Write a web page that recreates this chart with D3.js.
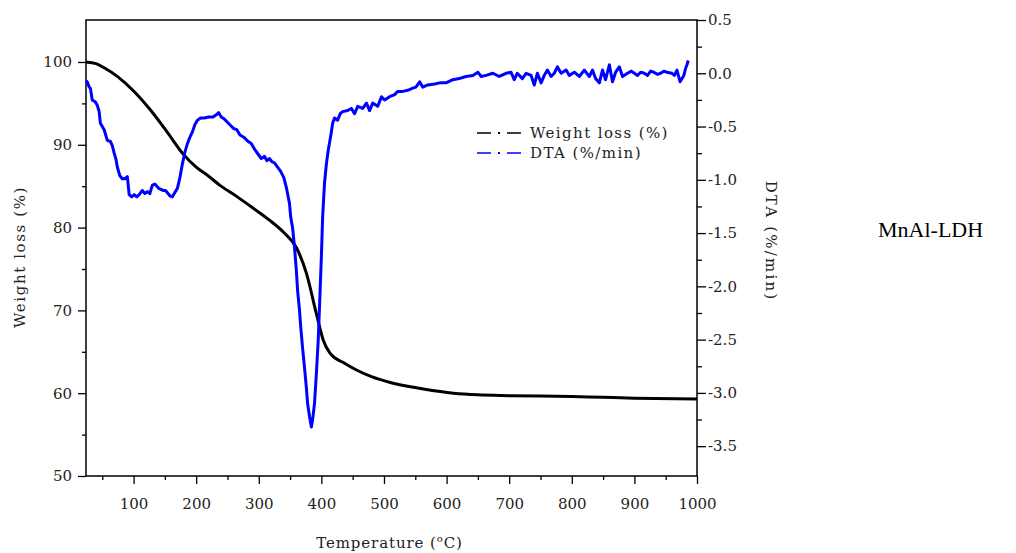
<!DOCTYPE html>
<html>
<head>
<meta charset="utf-8">
<script src="https://cdn.jsdelivr.net/npm/d3@7"></script>
<style>
  body { margin: 0; background: #fff; }
  svg text { font-family: "DejaVu Serif", serif; fill: #222; }
</style>
</head>
<body>
<svg id="chart" width="1016" height="553"></svg>
<script>
// temperature (°C) / weight loss (%)
const tgTemp = [24, 40, 53, 75, 100, 127, 154, 179, 200, 220, 238, 264, 290, 317, 340, 360, 376, 392, 403, 414, 435, 456, 480, 510, 540, 563, 611, 650, 700, 800, 850, 900, 1000];
const tgWeight = [100, 99.8, 99.3, 98.2, 96.5, 94.2, 91.5, 88.9, 87.3, 86.2, 85.1, 83.8, 82.4, 80.9, 79.4, 77.6, 74.5, 69.6, 66.4, 64.8, 63.7, 62.8, 62.0, 61.3, 60.8, 60.5, 60.0, 59.8, 59.7, 59.6, 59.5, 59.4, 59.3];

// temperature (°C) / DTA (%/min)
const dtaTemp = [24, 26, 29, 31, 34, 39, 42, 45, 47, 53, 58, 63, 66, 69, 72, 74, 78, 82, 86, 90, 93, 97, 101, 105, 109, 114, 118, 122, 126, 130, 134, 140, 147, 151, 158, 162, 166, 170, 174, 178, 182, 186, 190, 194, 198, 202, 207, 213, 220, 227, 232, 236, 240, 245, 250, 255, 260, 265, 270, 276, 283, 288, 294, 299, 304, 309, 313, 317, 321, 325, 330, 335, 340, 344, 346, 349, 351, 354, 357, 360, 362, 365, 367, 370, 373, 376, 378, 381, 384, 386, 389, 392, 395, 397, 400, 402, 405, 408, 411, 414, 416, 418, 421, 426, 430, 434, 442, 448, 453, 458, 466, 472, 477, 482, 490, 496, 501, 509, 517, 522, 530, 538, 546, 551, 557, 562, 570, 581, 589, 599, 610, 620, 631, 642, 650, 655, 663, 674, 684, 695, 703, 708, 713, 721, 727, 735, 740, 745, 751, 756, 761, 767, 772, 777, 783, 791, 796, 804, 812, 820, 828, 833, 838, 844, 849, 854, 860, 865, 870, 876, 881, 889, 895, 900, 905, 910, 916, 921, 926, 931, 937, 942, 947, 952, 960, 964, 968, 973, 979, 982, 984, 986];
const dtaRate = [-0.07, -0.08, -0.13, -0.14, -0.25, -0.27, -0.30, -0.36, -0.47, -0.53, -0.63, -0.64, -0.68, -0.75, -0.81, -0.88, -0.96, -0.99, -0.99, -0.97, -1.14, -1.16, -1.14, -1.16, -1.14, -1.10, -1.13, -1.11, -1.13, -1.05, -1.04, -1.08, -1.10, -1.10, -1.15, -1.16, -1.12, -1.08, -0.98, -0.85, -0.74, -0.66, -0.60, -0.55, -0.48, -0.44, -0.42, -0.42, -0.41, -0.41, -0.39, -0.37, -0.41, -0.43, -0.46, -0.49, -0.52, -0.53, -0.58, -0.60, -0.64, -0.66, -0.72, -0.76, -0.80, -0.78, -0.82, -0.80, -0.83, -0.84, -0.88, -0.92, -0.98, -1.07, -1.13, -1.22, -1.35, -1.45, -1.63, -1.85, -2.04, -2.22, -2.38, -2.58, -2.76, -2.95, -3.10, -3.22, -3.32, -3.25, -3.10, -2.82, -2.50, -2.19, -1.72, -1.35, -1.03, -0.85, -0.72, -0.62, -0.55, -0.47, -0.42, -0.44, -0.38, -0.36, -0.35, -0.33, -0.38, -0.31, -0.33, -0.28, -0.35, -0.28, -0.31, -0.22, -0.25, -0.22, -0.20, -0.17, -0.17, -0.16, -0.14, -0.13, -0.08, -0.13, -0.11, -0.10, -0.09, -0.09, -0.06, -0.05, -0.03, -0.02, 0.01, -0.03, -0.02, 0.0, -0.03, 0.0, 0.01, -0.06, 0.0, -0.05, 0.0, -0.02, -0.11, 0.0, -0.09, -0.02, 0.03, -0.03, 0.0, 0.06, 0.0, 0.03, -0.02, 0.01, -0.03, 0.03, -0.03, 0.03, -0.05, -0.09, 0.03, -0.06, 0.08, -0.08, 0.01, 0.06, -0.03, 0.0, 0.02, 0.0, -0.02, 0.01, 0.0, -0.02, 0.02, 0.01, -0.01, 0.0, 0.02, 0.01, 0.0, -0.02, 0.03, -0.08, -0.02, 0.05, 0.08, 0.12];

const xTicks = [100, 200, 300, 400, 500, 600, 700, 800, 900, 1000];
const xMinor = [50, 150, 250, 350, 450, 550, 650, 750, 850, 950];
const leftTicks = [50, 60, 70, 80, 90, 100];
const leftMinor = [55, 65, 75, 85, 95];
const rightTicks = [0.5, 0.0, -0.5, -1.0, -1.5, -2.0, -2.5, -3.0, -3.5];
const rightMinor = [0.25, -0.25, -0.75, -1.25, -1.75, -2.25, -2.75, -3.25];

const seriesNames = ["Weight loss (%)", "DTA (%/min)"];
const seriesColors = ["#000000", "#0000ff"];

const plotLeft = 86, plotRight = 697, plotTop = 20, plotBottom = 476;

const svg = d3.select("#chart");

let x = d3.scaleLinear().domain([24, 1000]).range([plotLeft, plotRight]);
let yL = d3.scaleLinear().domain([50, 105.07]).range([plotBottom, plotTop]);
let yR = d3.scaleLinear().domain([-3.78, 0.5]).range([plotBottom, plotTop]);

// frame
svg.append("rect")
    .attr("x", plotLeft).attr("y", plotTop)
    .attr("width", plotRight - plotLeft).attr("height", plotBottom - plotTop)
    .attr("fill", "none").attr("stroke", "#000").attr("stroke-width", 1.5);

function styleAxis(g) {
    g.select(".domain").remove();
    g.selectAll(".tick line").attr("stroke", "#000").attr("stroke-width", 1.3);
    g.selectAll("text").attr("font-size", 15).attr("fill", "#222");
}

// bottom axis
svg.append("g")
    .attr("transform", `translate(0,${plotBottom})`)
    .call(d3.axisBottom(x).tickValues(xTicks).tickSize(8).tickPadding(14).tickFormat(d3.format("d")))
    .call(styleAxis);
svg.append("g")
    .attr("transform", `translate(0,${plotBottom})`)
    .call(d3.axisBottom(x).tickValues(xMinor).tickSize(4).tickFormat(""))
    .call(styleAxis);

// left axis
svg.append("g")
    .attr("transform", `translate(${plotLeft},0)`)
    .call(d3.axisLeft(yL).tickValues(leftTicks).tickSize(8).tickPadding(6).tickFormat(d3.format("d")))
    .call(styleAxis);
svg.append("g")
    .attr("transform", `translate(${plotLeft},0)`)
    .call(d3.axisLeft(yL).tickValues(leftMinor).tickSize(4).tickFormat(""))
    .call(styleAxis);

// right axis
svg.append("g")
    .attr("transform", `translate(${plotRight},0)`)
    .call(d3.axisRight(yR).tickValues(rightTicks).tickSize(9).tickPadding(2).tickFormat(d => d.toFixed(1)))
    .call(styleAxis);
svg.append("g")
    .attr("transform", `translate(${plotRight},0)`)
    .call(d3.axisRight(yR).tickValues(rightMinor).tickSize(5).tickFormat(""))
    .call(styleAxis);

// curves
let tgData = tgTemp.map((t, i) => [t, tgWeight[i]]);
let dtaData = dtaTemp.map((t, i) => [t, dtaRate[i]]);

svg.append("path")
    .datum(tgData)
    .attr("fill", "none")
    .attr("stroke", seriesColors[0])
    .attr("stroke-width", 3)
    .attr("stroke-linejoin", "round")
    .attr("d", d3.line().x(d => x(d[0])).y(d => yL(d[1])).curve(d3.curveMonotoneX));

svg.append("path")
    .datum(dtaData)
    .attr("fill", "none")
    .attr("stroke", seriesColors[1])
    .attr("stroke-width", 3)
    .attr("stroke-linejoin", "round")
    .attr("d", d3.line().x(d => x(d[0])).y(d => yR(d[1])));

// legend
let legend = svg.append("g").attr("transform", "translate(477,133)");
seriesNames.forEach((name, i) => {
    let row = legend.append("g").attr("transform", `translate(0,${i * 20})`);
    row.append("line").attr("x1", 0).attr("x2", 14).attr("stroke", seriesColors[i]).attr("stroke-width", 1.5);
    row.append("rect").attr("x", 21).attr("y", -1).attr("width", 2).attr("height", 2).attr("fill", seriesColors[i]);
    row.append("line").attr("x1", 30).attr("x2", 44).attr("stroke", seriesColors[i]).attr("stroke-width", 1.5);
    row.append("text").attr("x", 53).attr("y", 5).attr("font-size", 15)
        .attr("letter-spacing", 1.4).text(name);
});

// axis titles
let xt = svg.append("text")
    .attr("x", (plotLeft + plotRight) / 2 - 2).attr("y", 548)
    .attr("text-anchor", "middle").attr("font-size", 15).attr("letter-spacing", 0.9);
xt.append("tspan").text("Temperature (");
xt.append("tspan").attr("font-size", 10).attr("dy", -6).text("o");
xt.append("tspan").attr("dy", 6).text("C)");

svg.append("text")
    .attr("transform", "translate(25,257) rotate(-90)")
    .attr("text-anchor", "middle").attr("font-size", 15).attr("letter-spacing", 1.6)
    .text("Weight loss (%)");

svg.append("text")
    .attr("transform", "translate(766,241) rotate(90)")
    .attr("text-anchor", "middle").attr("font-size", 15).attr("letter-spacing", 2.2)
    .text("DTA (%/min)");

svg.append("text")
    .attr("x", 878).attr("y", 237)
    .attr("font-size", 22)
    .style("font-family", "'Liberation Serif', serif")
    .style("fill", "#000")
    .text("MnAl-LDH");
</script>
</body>
</html>
